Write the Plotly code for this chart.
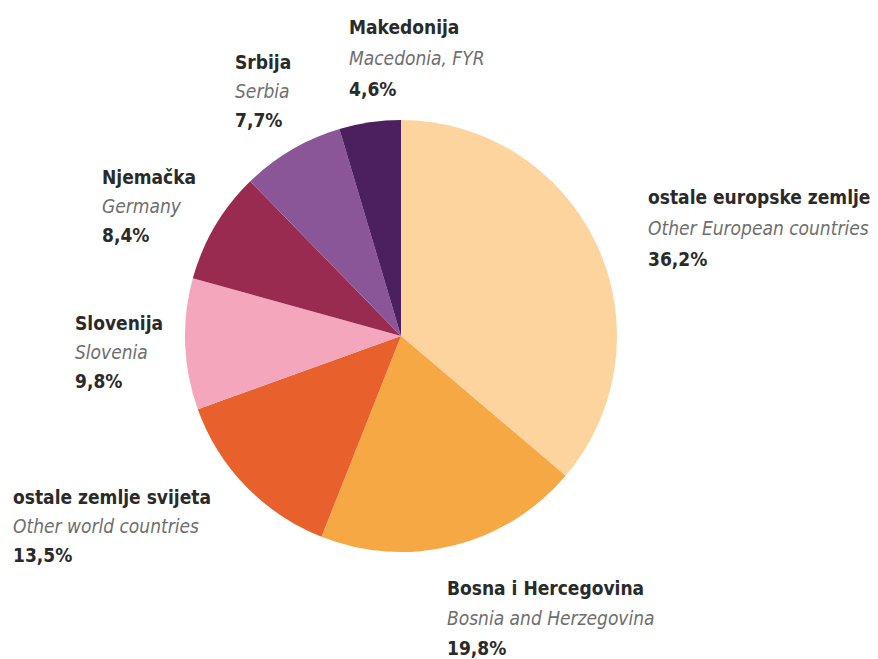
import plotly.graph_objects as go

labels_hr = ["ostale europske zemlje", "Bosna i Hercegovina", "ostale zemlje svijeta",
             "Slovenija", "Njemačka", "Srbija", "Makedonija"]
labels_en = ["Other European countries", "Bosnia and Herzegovina", "Other world countries",
             "Slovenia", "Germany", "Serbia", "Macedonia, FYR"]
values = [36.2, 19.8, 13.5, 9.8, 8.4, 7.7, 4.6]
pct_text = ["36,2%", "19,8%", "13,5%", "9,8%", "8,4%", "7,7%", "4,6%"]
colors = ["#FDD49E", "#F6A844", "#E8612C", "#F3A6BC", "#9A2B50", "#8B5697", "#4C1F5F"]

# label block positions in window pixels (left x, centre y of first line)
label_pos = [(648, 197), (447, 588), (13, 497), (75, 323), (102, 177), (235, 62), (349, 27)]
line_gap = [31, 30, 29, 29, 29, 29, 31]

W, H = 878, 659
OFF = 8  # page body margin

def fx(px):
    return (px - OFF) / W

def fy(py):
    return 1 - (py - OFF) / H

fig = go.Figure()
fig.add_trace(go.Pie(
    labels=labels_hr, values=values, sort=False, direction="clockwise", rotation=0,
    marker=dict(colors=colors, line=dict(width=0)),
    textinfo="none", hoverinfo="label+percent", showlegend=False,
    domain=dict(x=[fx(185), fx(617)], y=[fy(553), fy(119)]),
))

FONT = "DejaVu Sans Condensed, Liberation Sans Narrow, Arial Narrow, sans-serif"
ann = []
for hr, en, pt, (px, py), g in zip(labels_hr, labels_en, pct_text, label_pos, line_gap):
    lines = [("<b>%s</b>" % hr, "#2a2a2a"), ("<i>%s</i>" % en, "#6e6e6e"), ("<b>%s</b>" % pt, "#2a2a2a")]
    for i, (t, c) in enumerate(lines):
        ann.append(dict(x=fx(px - 2), y=fy(py + i * g), xref="paper", yref="paper",
                        xanchor="left", yanchor="middle", text=t, showarrow=False,
                        font=dict(family=FONT, size=19, color=c)))

fig.update_layout(width=W, height=H, margin=dict(l=0, r=0, t=0, b=0),
                  paper_bgcolor="white", plot_bgcolor="white", annotations=ann)
fig.write_html("out.html")
